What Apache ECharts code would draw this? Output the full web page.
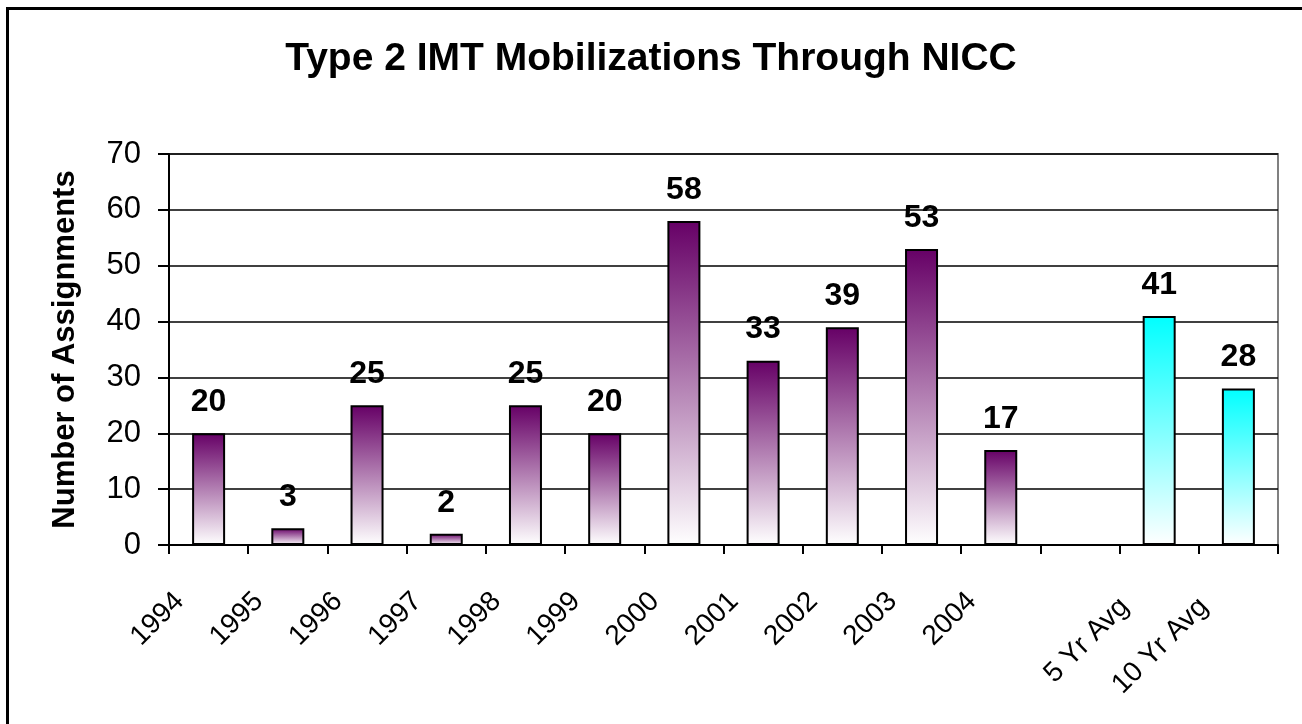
<!DOCTYPE html>
<html>
<head>
<meta charset="utf-8">
<title>Type 2 IMT Mobilizations Through NICC</title>
<script src="https://cdn.jsdelivr.net/npm/echarts@6/dist/echarts.min.js"></script>
<style>
  html, body { margin: 0; padding: 0; background: #fff; }
  #frame {
    position: absolute; left: 6px; top: 7px; right: 0; bottom: 0;
    border-left: 3px solid #000; border-top: 3px solid #000;
  }
  #chart { position: absolute; left: 0; top: 0; width: 1302px; height: 724px; }
</style>
</head>
<body>
<div id="frame"></div>
<div id="chart"></div>
<script>
// 年度数据
const years = ['1994', '1995', '1996', '1997', '1998', '1999', '2000', '2001', '2002', '2003', '2004'];
const yearCounts = [20, 3, 25, 2, 25, 20, 58, 33, 39, 53, 17];
// 平均值
const avgLabels = ['5 Yr Avg', '10 Yr Avg'];
const avgValues = [41, 28];
const yTicks = [0, 10, 20, 30, 40, 50, 60, 70];

// 长标签稍微往左挪一点
const categories = years.map(y => ({ value: y }))
  .concat([{ value: '' }])
  .concat(avgLabels.map(a => ({ value: a, textStyle: { padding: [0, 49, 11, 0] } })));

const purple = new echarts.graphic.LinearGradient(0, 0, 0, 1, [
  { offset: 0, color: '#660066' },
  { offset: 1, color: '#ffffff' }
]);
const cyan = new echarts.graphic.LinearGradient(0, 0, 0, 1, [
  { offset: 0, color: '#00ffff' },
  { offset: 1, color: '#ffffff' }
]);

const barData = yearCounts.map(v => ({ value: v, itemStyle: { color: purple } }))
  .concat([{ value: '-' }])
  .concat(avgValues.map(v => ({ value: v, itemStyle: { color: cyan } })));

const chart = echarts.init(document.getElementById('chart'));

const option = {
  backgroundColor: 'transparent',
  animation: false,
  textStyle: { fontFamily: 'Liberation Sans, Arial, sans-serif' },
  title: {
    text: 'Type 2 IMT Mobilizations Through NICC',
    left: 'center',
    top: 35,
    textStyle: { fontSize: 39, fontWeight: 'bold', color: '#000', fontFamily: 'Liberation Sans, Arial, sans-serif' }
  },
  grid: {
    left: 169, right: 24, top: 154, bottom: 179,
    show: true, borderColor: '#808080', borderWidth: 2, backgroundColor: '#fff'
  },
  xAxis: {
    type: 'category',
    data: categories,
    axisLine: { lineStyle: { color: '#000', width: 2 } },
    axisTick: { show: true, length: 9, lineStyle: { color: '#000', width: 2 } },
    axisLabel: {
      rotate: 45,
      interval: 0,
      fontSize: 28,
      color: '#000',
      margin: 23,
      padding: [0, 41, 0, 0]
    }
  },
  yAxis: {
    type: 'value',
    min: yTicks[0],
    max: yTicks[yTicks.length - 1],
    interval: 10,
    name: 'Number of Assignments',
    nameLocation: 'middle',
    nameGap: 88,
    nameTextStyle: { fontSize: 31, fontWeight: 'bold', color: '#000' },
    axisLine: { show: true, lineStyle: { color: '#000', width: 2 } },
    axisTick: { show: true, length: 11, lineStyle: { color: '#000', width: 2 } },
    axisLabel: { fontSize: 31, color: '#000', margin: 28 },
    splitLine: { lineStyle: { color: '#000', width: 1.5 } }
  },
  series: [{
    type: 'bar',
    data: barData,
    barWidth: 33,
    itemStyle: { borderColor: '#000', borderWidth: 2 },
    label: {
      show: true,
      position: 'top',
      distance: 15,
      fontSize: 32,
      fontWeight: 'bold',
      color: '#000'
    }
  }]
};

chart.setOption(option);
</script>
</body>
</html>
